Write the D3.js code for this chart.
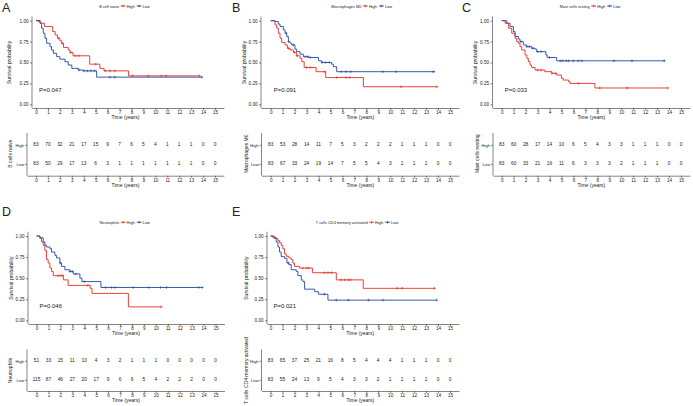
<!DOCTYPE html>
<html><head><meta charset="utf-8">
<script src="https://cdn.jsdelivr.net/npm/d3@7"></script>
<style>
body{margin:0;background:#fff}
svg{display:block}
text{font-family:"Liberation Sans",Arial,Helvetica,sans-serif;fill:#222}
</style>
</head><body>
<svg id="chart" width="693" height="406"></svg>
<script>
// ---------- data ----------
const timeTicks = [0,1,2,3,4,5,6,7,8,9,10,11,12,13,14,15];
const survTicks = [0, 0.25, 0.5, 0.75, 1];
const survTickLabels = ["0.00","0.25","0.50","0.75","1.00"];
const groupLabels = ["High","Low"];
const panelLetters = ["A","B","C","D","E"];
const legendTitles = ["B cell naive","Macrophages M0","Mast cells resting","Neutrophils","T cells CD4 memory activated"];
const riskTitles = ["B cells naive","Macrophages M0","Mast cells resting","Neutrophils","T cells CD4 memory activated"];
const pValues = ["P=0.047","P=0.091","P=0.033","P=0.046","P=0.021"];

// KM steps: [time, survival after time]
const aHigh = [[0,1],[0.35,0.97],[0.7,0.93],[1.4,0.87],[1.6,0.83],[1.8,0.79],[2.0,0.76],[2.15,0.73],[2.3,0.68],[2.7,0.65],[2.85,0.62],[3.1,0.58],[4.5,0.48],[5.35,0.43],[5.7,0.40],[7.75,0.34]];
const aHighEnd = 13.7;
const aHighCensor = [0.2,1.9,2.2,2.9,3.3,3.6,5.0,5.8,6.2,6.6,8.1,9.4,10.5,10.9,13.7];
const aLow = [[0,1],[0.33,0.97],[0.47,0.91],[0.61,0.85],[0.75,0.79],[0.89,0.73],[1.17,0.69],[1.3,0.65],[1.45,0.61],[1.73,0.57],[2.0,0.54],[2.43,0.51],[2.7,0.47],[3.0,0.43],[3.55,0.41],[3.95,0.40],[5.08,0.325]];
const aLowEnd = 13.9;
const aLowCensor = [3.6,4.0,4.3,4.6,4.9,6.2,6.6,13.9];

const bHigh = [[0,1],[0.36,0.95],[0.5,0.91],[0.64,0.85],[0.78,0.79],[0.92,0.74],[1.2,0.71],[1.4,0.67],[1.62,0.65],[1.9,0.62],[2.17,0.58],[2.45,0.55],[2.6,0.51],[2.8,0.44],[3.8,0.39],[4.6,0.32],[7.75,0.21]];
const bHighEnd = 13.9;
const bHighCensor = [1.5,2.0,2.2,3.0,3.3,4.5,5.5,6.3,6.6,10.9,13.9];
const bLow = [[0,1],[0.36,0.99],[0.64,0.96],[0.78,0.93],[1.06,0.89],[1.2,0.85],[1.34,0.81],[1.48,0.75],[1.62,0.73],[1.76,0.71],[2.03,0.66],[2.17,0.63],[2.45,0.60],[2.73,0.57],[3.15,0.56],[4.0,0.52],[4.27,0.50],[5.1,0.48],[5.24,0.45],[5.52,0.39]];
const bLowEnd = 13.75;
const bLowCensor = [1.3,1.5,1.9,2.9,3.1,3.3,4.3,4.6,4.9,5.9,6.3,6.7,9.4,10.5,13.6];

const cHigh = [[0,1],[0.28,0.97],[0.56,0.91],[0.84,0.85],[1.12,0.79],[1.25,0.75],[1.4,0.73],[1.53,0.69],[1.67,0.65],[1.95,0.59],[2.1,0.55],[2.23,0.51],[2.37,0.47],[2.5,0.44],[2.79,0.41],[3.6,0.39],[4.2,0.37],[4.6,0.35],[5.0,0.31],[5.15,0.29],[5.6,0.27],[5.72,0.25],[7.8,0.195]];
const cHighEnd = 13.9;
const cHighCensor = [3.0,3.3,4.2,4.5,6.4,8.2,10.5,13.9];
const cLow = [[0,1],[0.42,0.97],[0.7,0.93],[0.98,0.87],[1.12,0.81],[1.4,0.78],[1.53,0.75],[1.81,0.71],[2.09,0.69],[2.51,0.67],[2.79,0.66],[2.93,0.63],[3.7,0.59],[3.8,0.56],[4.6,0.52]];
const cLowEnd = 13.65;
const cLowCensor = [1.6,2.1,2.3,2.6,3.0,3.3,4.0,4.9,5.1,5.4,5.6,6.0,6.4,6.7,9.4,10.9,13.6];

const dHigh = [[0,1],[0.28,0.97],[0.42,0.93],[0.56,0.89],[0.7,0.83],[0.84,0.72],[0.98,0.68],[1.12,0.62],[1.26,0.58],[1.4,0.53],[2.25,0.48],[2.65,0.415],[4.5,0.38],[4.65,0.32],[7.7,0.16]];
const dHighEnd = 10.45;
const dHighCensor = [1.8,2.0,2.2,4.3,10.45];
const dLow = [[0,1],[0.28,0.98],[0.56,0.93],[0.7,0.89],[0.84,0.87],[1.12,0.85],[1.26,0.81],[1.54,0.77],[1.68,0.74],[1.96,0.68],[2.1,0.64],[2.38,0.60],[2.8,0.58],[3.08,0.55],[3.64,0.50],[3.8,0.46],[5.4,0.39]];
const dLowEnd = 13.9;
const dLowCensor = [2.0,2.8,3.0,3.3,4.0,5.8,6.3,6.6,8.1,9.4,10.4,10.9,13.6,13.9];

const eHigh = [[0,1],[0.34,0.97],[0.62,0.945],[0.76,0.92],[0.9,0.89],[1.03,0.85],[1.17,0.79],[1.31,0.76],[1.54,0.74],[1.73,0.72],[1.87,0.68],[2.0,0.64],[2.43,0.62],[3.5,0.565],[5.5,0.48],[7.75,0.38]];
const eHighEnd = 13.7;
const eHighCensor = [2.7,3.0,3.2,4.5,4.8,5.1,5.9,6.2,6.5,6.7,10.6,11.0,13.7];
const eLow = [[0,1],[0.2,0.98],[0.48,0.93],[0.62,0.87],[0.75,0.81],[0.89,0.755],[1.17,0.735],[1.37,0.68],[1.54,0.66],[1.73,0.60],[2.15,0.58],[2.29,0.53],[2.57,0.48],[2.7,0.46],[2.85,0.37],[3.7,0.34],[4.0,0.31],[4.8,0.24]];
const eLowEnd = 13.9;
const eLowCensor = [1.5,4.5,5.5,6.5,8.2,9.4,13.9];

// numbers at risk
const aRiskHigh = [83,70,32,21,17,15,9,7,6,5,4,1,1,1,0,0];
const aRiskLow  = [83,50,29,17,13,6,3,1,1,1,1,1,1,1,0,0];
const bRiskHigh = [83,53,28,14,11,7,5,3,2,2,2,1,1,1,0,0];
const bRiskLow  = [83,67,33,24,19,14,7,5,5,4,3,1,1,1,0,0];
const cRiskHigh = [83,60,28,17,14,10,6,5,4,3,3,1,1,1,0,0];
const cRiskLow  = [83,60,33,21,16,11,6,3,3,3,2,1,1,1,0,0];
const dRiskHigh = [51,33,15,11,10,4,3,2,1,1,1,0,0,0,0,0];
const dRiskLow  = [115,87,46,27,20,17,9,6,6,5,4,2,2,2,0,0];
const eRiskHigh = [83,65,37,25,21,16,8,5,4,4,4,1,1,1,0,0];
const eRiskLow  = [83,55,24,13,9,5,4,3,3,2,1,1,1,1,0,0];

// ---------- layout ----------
const RED = "#E8392C", BLUE = "#2F52A3", AX = "#333";
const topRow = {kmY1:20.7, kmY0:104.3, kmAxisY:108, riskTop:133, riskHigh:144.3, riskLow:163.3, riskAxisY:175.7, letterY:12, legendY:6};
const botRow = {kmY1:236, kmY0:320.4, kmAxisY:324, riskTop:349.5, riskHigh:361, riskLow:380, riskAxisY:391, letterY:216, legendY:222.3};

const panels = [
  {row:topRow, ox:0,   x0:36,    x15:215,  kmAxis:32,   riskAxis:27,   kmLabX:8.5,  riskLabX:10,   legCX:124.5,
   curves:[[aHigh,aHighEnd,aHighCensor],[aLow,aLowEnd,aLowCensor]], risk:[aRiskHigh,aRiskLow]},
  {row:topRow, ox:230, x0:270.7, x15:450,  kmAxis:261,  riskAxis:261.5,kmLabX:243.5,riskLabX:245.8,legCX:361.7,
   curves:[[bHigh,bHighEnd,bHighCensor],[bLow,bLowEnd,bLowCensor]], risk:[bRiskHigh,bRiskLow]},
  {row:topRow, ox:460, x0:501.7, x15:681,  kmAxis:492.5,riskAxis:493,  kmLabX:475,  riskLabX:477,  legCX:590,
   curves:[[cHigh,cHighEnd,cHighCensor],[cLow,cLowEnd,cLowCensor]], risk:[cRiskHigh,cRiskLow]},
  {row:botRow, ox:0,   x0:36.5,  x15:215.5,kmAxis:28,   riskAxis:27,   kmLabX:10.5, riskLabX:10,   legCX:124.7,
   curves:[[dHigh,dHighEnd,dHighCensor],[dLow,dLowEnd,dLowCensor]], risk:[dRiskHigh,dRiskLow]},
  {row:botRow, ox:230, x0:270.5, x15:450,  kmAxis:267,  riskAxis:261.5,kmLabX:245.7,riskLabX:245.8,legCX:357,
   curves:[[eHigh,eHighEnd,eHighCensor],[eLow,eLowEnd,eLowCensor]], risk:[eRiskHigh,eRiskLow]}
];
const groupColors = [RED, BLUE];

const svg = d3.select("#chart");
svg.append("rect").attr("width",693).attr("height",406).attr("fill","#fff");

function styleAxis(sel, fs){
  sel.select(".domain").attr("stroke",AX).attr("stroke-width",0.6);
  sel.selectAll(".tick line").attr("stroke",AX).attr("stroke-width",0.6);
  sel.selectAll(".tick text").style("font-size",fs+"px").attr("fill","#222");
}
function survAt(steps, t){
  let s = steps[0][1];
  for (const p of steps){ if (p[0] <= t) s = p[1]; }
  return s;
}
function plus(g, cx, cy, color){
  const h = 1.4;
  g.append("path").attr("d",`M${cx-h},${cy}H${cx+h}M${cx},${cy-h}V${cy+h}`)
    .attr("stroke",color).attr("stroke-width",0.6).attr("fill","none");
}

panels.forEach((p, i) => {
  const r = p.row;
  const g = svg.append("g");
  const x = d3.scaleLinear().domain([0,15]).range([p.x0, p.x15]);
  const y = d3.scaleLinear().domain([0,1]).range([r.kmY0, r.kmY1]);
  const xEnd = 15.75;

  // panel letter
  g.append("text").attr("x", p.ox + 2).attr("y", r.letterY).text(panelLetters[i])
    .style("font-size","12.5px").attr("fill","#111");

  // KM y axis
  const yAxis = d3.axisLeft(y).tickValues(survTicks).tickFormat((d,k)=>survTickLabels[k]).tickSize(2).tickSizeOuter(0).tickPadding(1.5);
  const gy = g.append("g").attr("transform",`translate(${p.kmAxis},0)`).call(yAxis);
  gy.select(".domain").attr("d",`M0,${r.kmAxisY}V${y(1.05)}`);
  styleAxis(gy, 4.6);

  // KM x axis
  const xAxisScale = d3.scaleLinear().domain([x.invert(p.kmAxis), xEnd]).range([p.kmAxis, x(xEnd)]);
  const xAxis = d3.axisBottom(xAxisScale).tickValues(timeTicks).tickFormat(d3.format("d")).tickSize(2).tickSizeOuter(0).tickPadding(1.2);
  const gx = g.append("g").attr("transform",`translate(0,${r.kmAxisY})`).call(xAxis);
  styleAxis(gx, 4.6);

  g.append("text").attr("x",(p.x0+p.x15)/2).attr("y",r.kmAxisY+11).attr("text-anchor","middle")
    .style("font-size","5px").text("Time (years)");
  g.append("text").attr("transform",`translate(${p.kmLabX},${(r.kmY0+r.kmY1)/2}) rotate(-90)`)
    .attr("text-anchor","middle").attr("dominant-baseline","central").style("font-size","5.2px").text("Survival probability");

  // curves
  const line = d3.line().x(d=>x(d[0])).y(d=>y(d[1])).curve(d3.curveStepAfter);
  p.curves.forEach((c, k) => {
    const [steps, tEnd, cens] = c;
    const pts = steps.concat([[tEnd, steps[steps.length-1][1]]]);
    g.append("path").datum(pts).attr("d", line).attr("fill","none")
      .attr("stroke", groupColors[k]).attr("stroke-width", 0.95);
    cens.forEach(t => plus(g, x(t), y(survAt(steps, t)), groupColors[k]));
  });

  // p-value
  g.append("text").attr("x", p.x0 + 3).attr("y", y(0.17)).attr("dominant-baseline","central")
    .style("font-size","6px").text(pValues[i]);

  // legend
  const lg = g.append("g").attr("transform",`translate(0,${r.legendY})`);
  const lfs = 3.9;
  let cx = 0;
  const t0 = lg.append("text").attr("x",cx).attr("dominant-baseline","central").style("font-size",lfs+"px").text(legendTitles[i]);
  cx += t0.node().getComputedTextLength() + 1.5;
  groupLabels.forEach((gl, k) => {
    lg.append("line").attr("x1",cx).attr("x2",cx+5).attr("y1",0).attr("y2",0).attr("stroke",groupColors[k]).attr("stroke-width",0.9);
    plus(lg, cx+2.5, 0, groupColors[k]);
    cx += 6;
    const tt = lg.append("text").attr("x",cx).attr("dominant-baseline","central").style("font-size",lfs+"px").text(gl);
    cx += tt.node().getComputedTextLength() + 2;
  });
  lg.attr("transform",`translate(${p.legCX - (cx-2)/2},${r.legendY})`);

  // ---- risk table ----
  const step = r.riskLow - r.riskHigh;
  const pad = ((r.riskAxisY - r.riskTop)/step - 1)/2;
  const yr = d3.scalePoint().domain(groupLabels).range([r.riskTop, r.riskAxisY]).padding(pad);
  const ryAxis = d3.axisLeft(yr).tickSize(2).tickSizeOuter(0).tickPadding(0.8);
  const gry = g.append("g").attr("transform",`translate(${p.riskAxis},0)`).call(ryAxis);
  gry.select(".domain").attr("d",`M0,${r.riskAxisY}V${r.riskTop}`);
  styleAxis(gry, 4.2);
  gry.selectAll(".tick text").attr("fill",(d,k)=>groupColors[k]);

  const rxScale = d3.scaleLinear().domain([x.invert(p.riskAxis), xEnd]).range([p.riskAxis, x(xEnd)]);
  const rxAxis = d3.axisBottom(rxScale).tickValues(timeTicks).tickFormat(d3.format("d")).tickSize(2).tickSizeOuter(0).tickPadding(1.2);
  const grx = g.append("g").attr("transform",`translate(0,${r.riskAxisY})`).call(rxAxis);
  styleAxis(grx, 4.6);
  g.append("text").attr("x",(p.x0+p.x15)/2).attr("y",r.riskAxisY+11).attr("text-anchor","middle")
    .style("font-size","5px").text("Time (years)");
  g.append("text").attr("transform",`translate(${p.riskLabX},${(r.riskHigh+r.riskLow)/2}) rotate(-90)`)
    .attr("text-anchor","middle").attr("dominant-baseline","central").style("font-size","5px").text(riskTitles[i]);

  p.risk.forEach((arr, k) => {
    g.selectAll(null).data(arr).enter().append("text")
      .attr("x",(d,j)=>x(timeTicks[j])).attr("y",yr(groupLabels[k]))
      .attr("text-anchor","middle").attr("dominant-baseline","central")
      .style("font-size","4.8px").text(d=>d);
  });
});
</script>
</body></html>
